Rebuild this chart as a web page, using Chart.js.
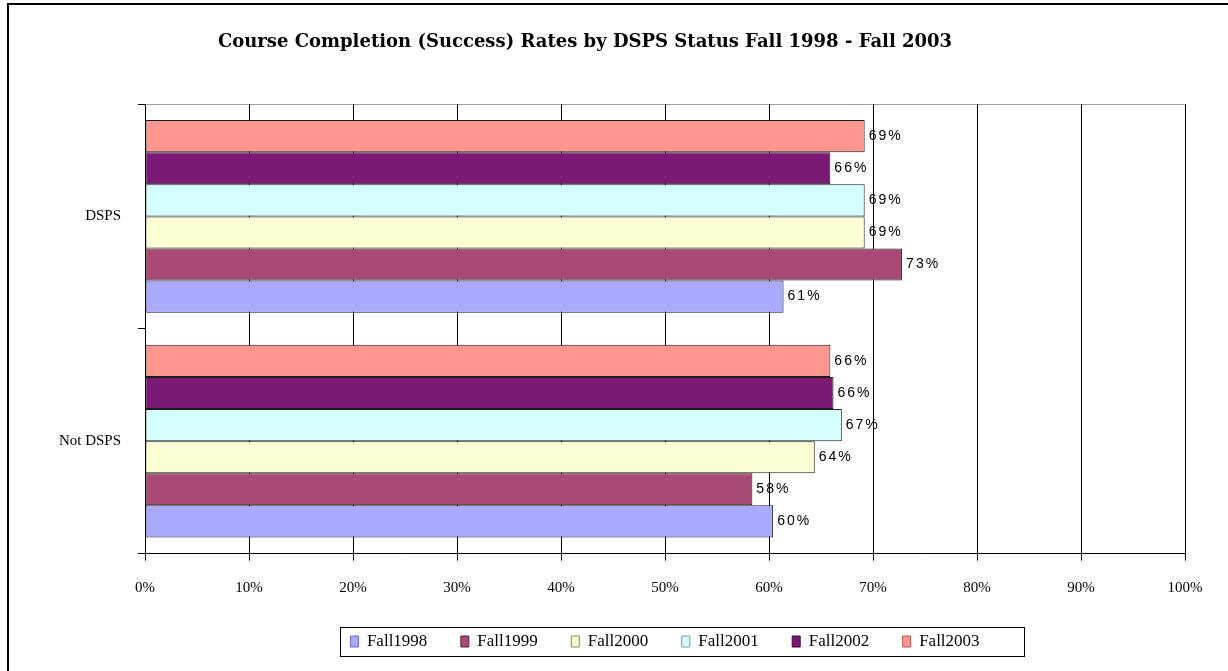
<!DOCTYPE html>
<html>
<head>
<meta charset="utf-8">
<script src="https://cdn.jsdelivr.net/npm/chart.js@4/dist/chart.umd.min.js"></script>
<style>
  html, body { margin: 0; padding: 0; background: #fff; }
  #wrap { width: 1228px; height: 671px; position: relative; }
</style>
</head>
<body>
<div id="wrap"><canvas id="chart"></canvas></div>
<script>
// ── Data ─────────────────────────────────────────────
const TITLE = 'Course Completion (Success) Rates by DSPS Status Fall 1998 - Fall 2003';
const categories = ['DSPS', 'Not DSPS'];
const seriesNames = ['Fall1998', 'Fall1999', 'Fall2000', 'Fall2001', 'Fall2002', 'Fall2003'];
const fall1998 = [61.4, 60.4];
const fall1999 = [72.8, 58.4];
const fall2000 = [69.2, 64.4];
const fall2001 = [69.2, 67.0];
const fall2002 = [65.9, 66.2];
const fall2003 = [69.2, 65.9];
const seriesValues = [fall1998, fall1999, fall2000, fall2001, fall2002, fall2003];
const xTicks = [0, 10, 20, 30, 40, 50, 60, 70, 80, 90, 100];

// ── Styles ───────────────────────────────────────────
const FILLS = ['#aaaaff', '#a94a75', '#ffffd5', '#d5ffff', '#7a1a75', '#ff9690'];
const LEGEND_EDGES = ['#6a6acc', '#5a1f3d', '#8a8a50', '#70a0a0', '#3a0838', '#c05050'];
const SERIF = "'Liberation Serif', 'DejaVu Serif', serif";

// Excel draws the first series at the bottom of each group, so datasets go in reverse
const datasets = seriesNames.map((name, i) => ({
  label: name,
  data: seriesValues[i],
  backgroundColor: FILLS[i],
  borderColor: '#1a1a1a',
  borderWidth: 1,
  borderSkipped: false,
  categoryPercentage: 0.857,
  barPercentage: 1.0,
  legendEdge: LEGEND_EDGES[i],
})).reverse();

const framePlugin = {
  id: 'frame',
  beforeDraw(chart) {
    const { ctx, chartArea: a } = chart;
    ctx.save();
    ctx.fillStyle = '#fff';
    ctx.fillRect(0, 0, chart.width, chart.height);
    ctx.strokeStyle = '#000';
    ctx.lineWidth = 2;
    ctx.beginPath();
    ctx.moveTo(8, chart.height + 2);
    ctx.lineTo(8, 4);
    ctx.lineTo(chart.width + 2, 4);
    ctx.stroke();
    // plot-area top edge
    ctx.strokeStyle = '#a0a0a0';
    ctx.lineWidth = 1;
    ctx.beginPath();
    ctx.moveTo(a.left, Math.round(a.top) + 0.5);
    ctx.lineTo(a.right, Math.round(a.top) + 0.5);
    ctx.stroke();
    // title, centred where Excel put it (a little left of the page centre)
    ctx.fillStyle = '#000';
    ctx.font = "bold 18px 'DejaVu Serif', serif";
    ctx.textAlign = 'center';
    ctx.textBaseline = 'middle';
    ctx.fillText(TITLE, 585, 42);
    ctx.restore();
  },
  afterDraw(chart) {
    // box around the legend
    const boxes = chart.legend.legendHitBoxes;
    if (!boxes || !boxes.length) return;
    const left = boxes[0].left - 10;
    const last = boxes[boxes.length - 1];
    const right = last.left + last.width + 45;
    const mid = boxes[0].top + boxes[0].height / 2;
    const { ctx } = chart;
    ctx.save();
    ctx.strokeStyle = '#000';
    ctx.lineWidth = 1;
    ctx.strokeRect(Math.round(left) + 0.5, Math.round(mid - 15) + 0.5, Math.round(right - left), 29);
    ctx.restore();
  },
};

const valueLabels = {
  id: 'valueLabels',
  afterDatasetsDraw(chart) {
    const { ctx } = chart;
    ctx.save();
    ctx.font = "14px 'Liberation Sans', Arial, sans-serif";
    ctx.letterSpacing = '2px';
    ctx.fillStyle = '#000';
    ctx.textAlign = 'left';
    ctx.textBaseline = 'middle';
    chart.data.datasets.forEach((ds, di) => {
      chart.getDatasetMeta(di).data.forEach((bar, i) => {
        ctx.fillText(Math.round(ds.data[i]) + '%', bar.x + 4, bar.y);
      });
    });
    ctx.restore();
  },
};

new Chart(document.getElementById('chart'), {
  type: 'bar',
  data: { labels: categories, datasets },
  options: {
    indexAxis: 'y',
    responsive: true,
    maintainAspectRatio: false,
    animation: false,
    layout: { padding: { left: 8, right: 43, top: 104, bottom: 11 } },
    plugins: {
      title: { display: false },
      legend: {
        position: 'bottom',
        fullSize: false, // centre the legend under the plot area, not the page
        reverse: true,
        labels: {
          color: '#000',
          font: { family: SERIF, size: 17 },
          boxWidth: 8,
          boxHeight: 11,
          padding: 33.5,
          generateLabels(chart) {
            return chart.data.datasets.map((ds, i) => ({
              text: ds.label,
              fillStyle: ds.backgroundColor,
              strokeStyle: ds.legendEdge,
              lineWidth: 1,
              datasetIndex: i,
              hidden: false,
            }));
          },
        },
      },
      tooltip: { enabled: false },
    },
    scales: {
      x: {
        min: 0,
        max: 100,
        afterBuildTicks: (scale) => { scale.ticks = xTicks.map((v) => ({ value: v })); },
        afterFit: (scale) => { scale.height = 46; },
        ticks: {
          color: '#000',
          font: { family: SERIF, size: 15 },
          padding: 19,
          callback: (v) => v + '%',
        },
        grid: { color: '#000', lineWidth: 1, tickLength: 7 },
        border: { color: '#000' },
      },
      y: {
        afterFit: (scale) => { scale.width = 137; },
        ticks: {
          color: '#000',
          font: { family: SERIF, size: 15 },
          padding: 17,
        },
        grid: { drawOnChartArea: false, color: '#000', tickLength: 7, offset: true },
        border: { color: '#000' },
      },
    },
  },
  plugins: [framePlugin, valueLabels],
});
</script>
</body>
</html>
